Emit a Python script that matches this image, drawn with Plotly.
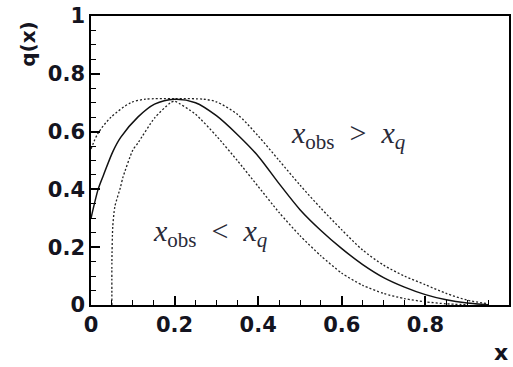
import plotly.graph_objects as go

# --- data ---
solid_x = [0.0, 0.017, 0.03, 0.052, 0.071, 0.112, 0.152, 0.2, 0.25, 0.3, 0.35, 0.4, 0.45, 0.5, 0.55, 0.6, 0.65, 0.7, 0.75, 0.8, 0.85, 0.9, 0.95]
solid_y = [0.30, 0.40, 0.45, 0.53, 0.58, 0.65, 0.695, 0.712, 0.70, 0.655, 0.59, 0.515, 0.42, 0.33, 0.258, 0.195, 0.14, 0.095, 0.062, 0.036, 0.018, 0.007, 0.001]

outer_x = [0.0, 0.017, 0.048, 0.095, 0.13, 0.2, 0.27, 0.3, 0.35, 0.4, 0.45, 0.5, 0.55, 0.6, 0.65, 0.7, 0.75, 0.8, 0.85, 0.9, 0.95]
outer_y = [0.54, 0.595, 0.65, 0.70, 0.712, 0.714, 0.712, 0.703, 0.66, 0.585, 0.50, 0.415, 0.335, 0.26, 0.19, 0.138, 0.10, 0.07, 0.04, 0.017, 0.004]

inner_x = [0.05, 0.05, 0.052, 0.057, 0.071, 0.076, 0.1, 0.112, 0.152, 0.19, 0.2, 0.25, 0.3, 0.35, 0.4, 0.45, 0.5, 0.55, 0.6, 0.65, 0.7, 0.75, 0.8, 0.85, 0.9]
inner_y = [0.0, 0.15, 0.27, 0.34, 0.41, 0.44, 0.536, 0.56, 0.647, 0.70, 0.705, 0.66, 0.585, 0.50, 0.41, 0.32, 0.24, 0.17, 0.11, 0.068, 0.04, 0.022, 0.011, 0.004, 0.001]

x_ticks = [0, 0.2, 0.4, 0.6, 0.8, 1]
y_ticks = [0, 0.2, 0.4, 0.6, 0.8, 1]
minor_step = 0.05

label_gt = "<i>x</i><sub>obs</sub>&nbsp; &gt; &nbsp;<i>x<sub>q</sub></i>"
label_lt = "<i>x</i><sub>obs</sub>&nbsp; &lt; &nbsp;<i>x<sub>q</sub></i>"

fig = go.Figure()
fig.add_trace(go.Scatter(x=outer_x, y=outer_y, mode="lines",
                         line=dict(color="#222", width=1.3, dash="2px,2px", shape="spline", smoothing=0.8),
                         showlegend=False, hoverinfo="skip"))
fig.add_trace(go.Scatter(x=inner_x, y=inner_y, mode="lines",
                         line=dict(color="#222", width=1.3, dash="2px,2px", shape="spline", smoothing=0.6),
                         showlegend=False, hoverinfo="skip"))
fig.add_trace(go.Scatter(x=solid_x, y=solid_y, mode="lines",
                         line=dict(color="#111", width=1.5, shape="spline", smoothing=0.8),
                         showlegend=False, hoverinfo="skip"))

tickfont = dict(family="DejaVu Sans", size=21, color="#141420", weight="bold")


def axis_opts(ticks):
    return dict(range=[0, 1], showgrid=False, zeroline=False, showline=True,
                linecolor="black", linewidth=1.5, mirror=True,
                tickmode="linear", tick0=ticks[0], dtick=ticks[1] - ticks[0],
                ticks="inside", ticklen=9, tickwidth=1.5, tickcolor="black",
                tickfont=tickfont,
                minor=dict(dtick=minor_step, ticks="inside", ticklen=5, tickwidth=1.2,
                           tickcolor="black", showgrid=False))


fig.update_layout(xaxis=axis_opts(x_ticks), yaxis=axis_opts(y_ticks))

fig.add_annotation(x=0.617, y=0.588, xref="x", yref="y", text=label_gt, showarrow=False,
                   font=dict(family="Liberation Serif", size=30, color="#2a2a38"))
fig.add_annotation(x=0.286, y=0.25, xref="x", yref="y", text=label_lt, showarrow=False,
                   font=dict(family="Liberation Serif", size=30, color="#2a2a38"))
fig.add_annotation(x=-0.15, y=0.905, xref="paper", yref="paper", text="q(x)", textangle=-90,
                   showarrow=False, xanchor="center", yanchor="middle",
                   font=dict(family="DejaVu Sans", size=20, color="#141420", weight="bold"))
fig.add_annotation(x=0.981, y=-0.163, xref="paper", yref="paper", text="x",
                   showarrow=False, xanchor="center", yanchor="middle",
                   font=dict(family="DejaVu Sans", size=22, color="#141420", weight="bold"))

fig.update_layout(width=513, height=367, margin=dict(l=91, r=2, t=16, b=62),
                  paper_bgcolor="white", plot_bgcolor="white")

fig.write_html("out.html")
